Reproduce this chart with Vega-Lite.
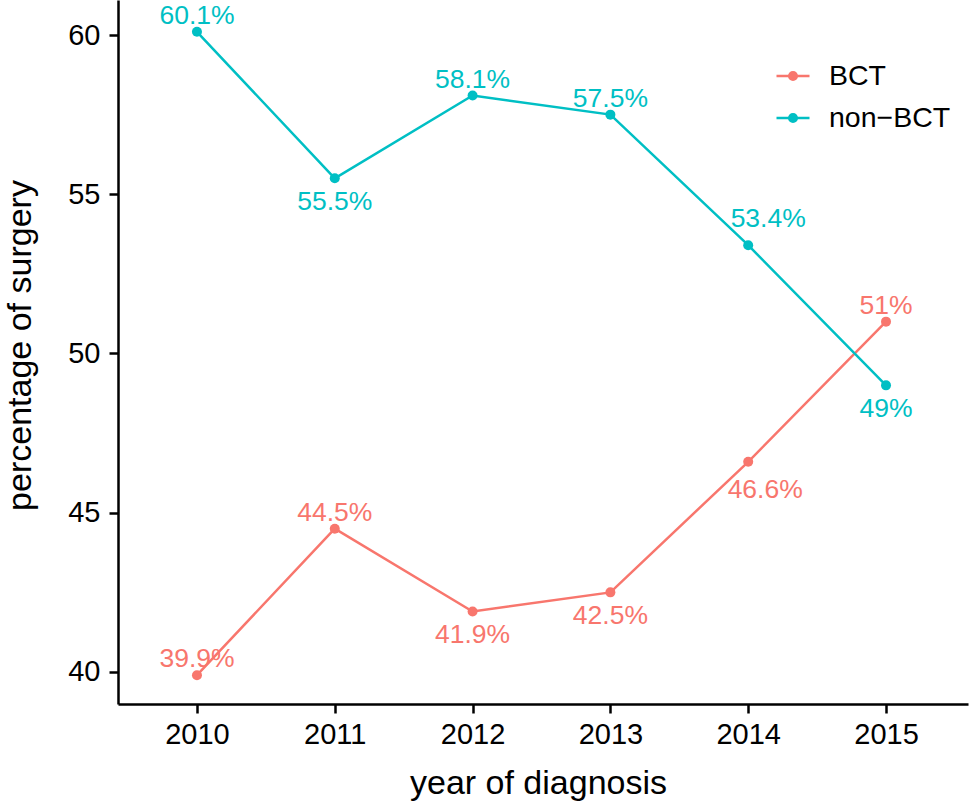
{
  "$schema": "https://vega.github.io/schema/vega-lite/v6.json",
  "width": 850,
  "height": 704,
  "autosize": {"type": "none"},
  "padding": {"left": 118, "top": 0, "right": 6, "bottom": 100},
  "background": "white",
  "config": {"view": {"stroke": null}, "font": "Liberation Sans"},
  "data": {"values": [
    {"year": 2010, "pct": 39.9, "group": "BCT", "label": "39.9%", "pos": "above"},
    {"year": 2011, "pct": 44.5, "group": "BCT", "label": "44.5%", "pos": "above"},
    {"year": 2012, "pct": 41.9, "group": "BCT", "label": "41.9%", "pos": "below"},
    {"year": 2013, "pct": 42.5, "group": "BCT", "label": "42.5%", "pos": "below"},
    {"year": 2014, "pct": 46.6, "group": "BCT", "label": "46.6%", "pos": "below-right"},
    {"year": 2015, "pct": 51.0, "group": "BCT", "label": "51%", "pos": "above"},
    {"year": 2010, "pct": 60.1, "group": "non−BCT", "label": "60.1%", "pos": "above"},
    {"year": 2011, "pct": 55.5, "group": "non−BCT", "label": "55.5%", "pos": "below"},
    {"year": 2012, "pct": 58.1, "group": "non−BCT", "label": "58.1%", "pos": "above"},
    {"year": 2013, "pct": 57.5, "group": "non−BCT", "label": "57.5%", "pos": "above"},
    {"year": 2014, "pct": 53.4, "group": "non−BCT", "label": "53.4%", "pos": "above-right"},
    {"year": 2015, "pct": 49.0, "group": "non−BCT", "label": "49%", "pos": "below"}
  ]},
  "encoding": {
    "x": {
      "field": "year", "type": "quantitative",
      "scale": {"domain": [2009.427, 2015.595], "nice": false, "zero": false},
      "axis": {
        "title": "year of diagnosis", "values": [2010, 2011, 2012, 2013, 2014, 2015], "format": "d",
        "grid": false, "domainColor": "black", "domainWidth": 2.5, "tickColor": "black", "tickWidth": 2.5, "tickSize": 9,
        "labelFontSize": 29, "labelColor": "black", "labelBaseline": "alphabetic", "labelPadding": 30, "labelFlush": false,
        "titleFontSize": 34, "titleFontWeight": "normal", "titleColor": "black", "titleBaseline": "alphabetic",
        "titleX": 420, "titleY": 89, "titleAnchor": "middle", "titleAlign": "center"
      }
    },
    "y": {
      "field": "pct", "type": "quantitative",
      "scale": {"domain": [38.995, 61.099], "nice": false, "zero": false},
      "axis": {
        "title": "percentage of surgery", "values": [40, 45, 50, 55, 60],
        "grid": false, "domainColor": "black", "domainWidth": 2.5, "tickColor": "black", "tickWidth": 2.5, "tickSize": 9,
        "labelFontSize": 29, "labelColor": "black", "labelPadding": 9, "labelFlush": false,
        "titleFontSize": 34, "titleFontWeight": "normal", "titleColor": "black", "titleBaseline": "alphabetic",
        "titleX": -88, "titleY": 345, "titleAngle": -90, "titleAlign": "center", "titleAnchor": "middle"
      }
    },
    "color": {
      "field": "group", "type": "nominal",
      "scale": {"domain": ["BCT", "non−BCT"], "range": ["#F8766D", "#00BFC4"]},
      "legend": {
        "title": null, "orient": "none", "legendX": 657, "legendY": 58, "padding": 0,
        "labelFontSize": 28.5, "labelColor": "black", "labelOffset": 18, "rowPadding": 9,
        "symbolType": "M-1,0L1,0M-0.23,0A0.23,0.23,0,1,1,0.23,0A0.23,0.23,0,1,1,-0.23,0Z",
        "symbolSize": 1089, "symbolStrokeWidth": 2.5,
        "encode": {"symbols": {"update": {
          "fill": {"scale": "color", "field": "value"},
          "stroke": {"scale": "color", "field": "value"},
          "opacity": {"value": 1}
        }}}
      }
    }
  },
  "layer": [
    {"mark": {"type": "line", "strokeWidth": 2.5}},
    {"mark": {"type": "point", "filled": true, "size": 100, "opacity": 1}},
    {
      "transform": [{"filter": "datum.pos === 'above'"}],
      "mark": {"type": "text", "fontSize": 26.5, "baseline": "alphabetic", "align": "center", "dy": -8},
      "encoding": {"text": {"field": "label"}}
    },
    {
      "transform": [{"filter": "datum.pos === 'below'"}],
      "mark": {"type": "text", "fontSize": 26.5, "baseline": "alphabetic", "align": "center", "dy": 32},
      "encoding": {"text": {"field": "label"}}
    },
    {
      "transform": [{"filter": "datum.pos === 'above-right'"}],
      "mark": {"type": "text", "fontSize": 26.5, "baseline": "alphabetic", "align": "center", "dx": 20, "dy": -18},
      "encoding": {"text": {"field": "label"}}
    },
    {
      "transform": [{"filter": "datum.pos === 'below-right'"}],
      "mark": {"type": "text", "fontSize": 26.5, "baseline": "alphabetic", "align": "center", "dx": 17, "dy": 36},
      "encoding": {"text": {"field": "label"}}
    }
  ]
}
